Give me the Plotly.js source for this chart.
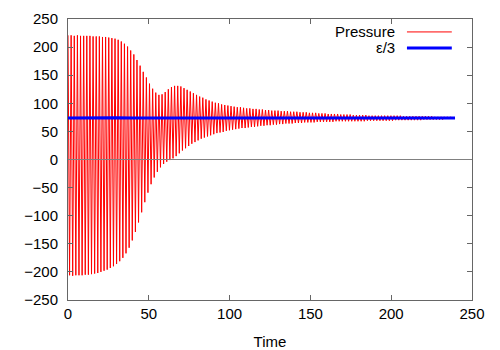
<!DOCTYPE html>
<html>
<head>
<meta charset="utf-8">
<script src="https://cdn.plot.ly/plotly-3.0.1.min.js"></script>
<style>
  html, body { margin: 0; padding: 0; background: #fff; }
  #Graph { width: 500px; height: 350px; }
</style>
</head>
<body>
<div id="Graph"></div>
<script>
// one oscillation of the pressure takes about this long (time units)
var period = 1.94;

// pressure maxima, one per oscillation
var pressureHigh = [
  221,221,220,221,220,220,220,220,219,219,
  219,218,218,217,216,215,213,210,206,201,
  194,187,177,167,156,146,135,126,119,115,
  116,120,125,129,131,131,130,127,124,121,
  118,115,112,110,107,105,103,101,100,98,
  97,96,95,94,93,93,92,91,91,90,
  90,89,89,88,88,87,87,87,86,86,
  86,85,85,85,84,84,84,83,83,83,
  82,82,82,81,81,81,81,80,80,80,
  80,79,79,79,79,79,78,78,78,78,
  78,78,78,78,78,78,78,77,77,77,
  77,77,77,77,77,77,77,76,76,76,
  76,76,76
];

// pressure minima, half an oscillation later
var pressureLow = [
  -206,-207,-206,-206,-206,-205,-205,-204,-203,-202,
  -200,-198,-196,-193,-190,-186,-181,-175,-167,-157,
  -144,-129,-112,-94,-76,-59,-44,-32,-22,-14,
  -8,-4,-1,2,6,11,16,20,24,28,
  31,34,37,39,41,43,45,47,48,49,
  51,52,53,54,55,56,56,57,58,58,
  59,60,60,61,61,62,62,63,63,64,
  64,64,65,65,65,66,66,66,66,67,
  67,67,67,67,67,68,68,68,68,68,
  68,68,68,68,68,69,69,69,69,69,
  69,69,69,69,70,70,70,70,70,70,
  70,70,70,71,71,71,71,71,71,71,
  72,72,72
];

// epsilon / 3
var epsTime = [0, 10, 20, 30, 40, 50, 60, 80, 100, 150, 200, 239.5];
var epsVal = [74, 74.5, 74, 74.5, 74, 74.5, 74, 74, 74, 74, 74, 74];

var xTicks = [0, 50, 100, 150, 200, 250];
var yTicks = [-250, -200, -150, -100, -50, 0, 50, 100, 150, 200, 250];

var pTime = [], pVal = [];
for (var i = 0; i < pressureHigh.length; i++) {
  pTime.push(i * period);
  pVal.push(pressureHigh[i]);
  pTime.push(i * period + period / 2);
  pVal.push(pressureLow[i]);
}

var pressure = {
  x: pTime, y: pVal, type: 'scatter', mode: 'lines',
  line: {color: '#ff0000', width: 1},
  name: 'Pressure'
};
var eps = {
  x: epsTime, y: epsVal, type: 'scatter', mode: 'lines',
  line: {color: '#0000ff', width: 3},
  name: 'ε/3'
};

var font = {family: 'Liberation Sans, Arial, sans-serif', size: 15, color: '#000'};

var layout = {
  width: 500, height: 350,
  margin: {l: 68, r: 28, t: 19, b: 50},
  paper_bgcolor: '#fff', plot_bgcolor: '#fff',
  showlegend: false,
  font: font,
  xaxis: {
    range: [0, 250], tickvals: xTicks,
    ticks: 'inside', ticklen: 5, tickcolor: '#666',
    showline: true, linecolor: '#666', linewidth: 1, mirror: 'ticks',
    showgrid: false, zeroline: false,
    tickfont: font,
    title: {text: 'Time', font: font, standoff: 15}
  },
  yaxis: {
    range: [-250, 250], tickvals: yTicks,
    ticks: 'inside', ticklen: 5, tickcolor: '#666',
    showline: true, linecolor: '#666', linewidth: 1, mirror: 'ticks',
    showgrid: false, zeroline: false,
    tickfont: font, ticklabelstandoff: 6
  },
  shapes: [
    {type: 'line', xref: 'paper', yref: 'y', x0: 0, x1: 1, y0: 0, y1: 0,
     line: {color: '#808080', width: 1}, layer: 'above'},
    {type: 'line', xref: 'paper', yref: 'paper', x0: 0.839, x1: 0.950, y0: 0.954, y1: 0.954,
     line: {color: '#ff0000', width: 1}},
    {type: 'line', xref: 'paper', yref: 'paper', x0: 0.839, x1: 0.950, y0: 0.897, y1: 0.897,
     line: {color: '#0000ff', width: 3}}
  ],
  annotations: [
    {xref: 'paper', yref: 'paper', x: 0.814, y: 0.954, xanchor: 'right', yanchor: 'middle',
     text: 'Pressure', showarrow: false, font: font},
    {xref: 'paper', yref: 'paper', x: 0.814, y: 0.897, xanchor: 'right', yanchor: 'middle',
     text: 'ε/3', showarrow: false, font: font}
  ]
};

Plotly.newPlot('Graph', [pressure, eps], layout, {staticPlot: true});
</script>
</body>
</html>
